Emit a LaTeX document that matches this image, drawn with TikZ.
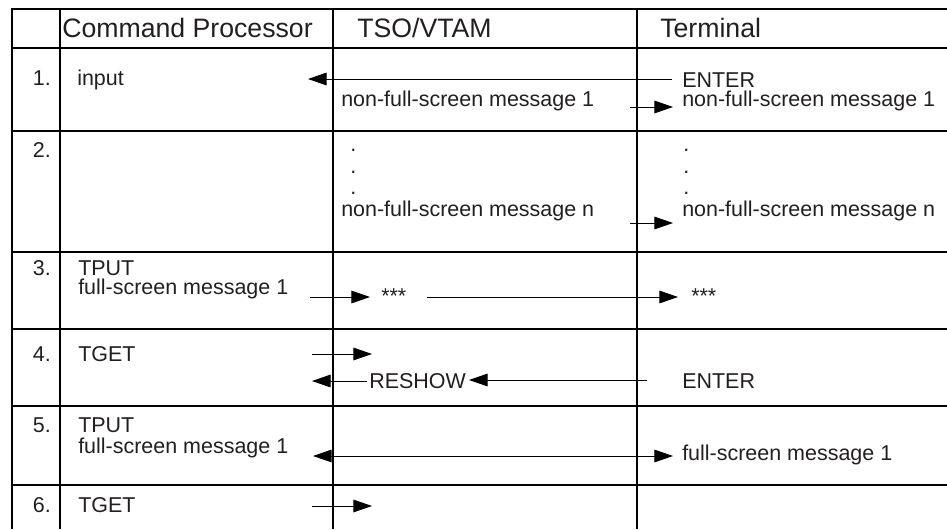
\documentclass[tikz,border=0pt]{standalone}
\usepackage{fontspec}
\setmainfont{Liberation Sans}
\usetikzlibrary{arrows.meta}
\definecolor{txt}{HTML}{231F20}
\begin{document}
\begin{tikzpicture}[x=0.75pt,y=-0.75pt,
  grid/.style={line width=0.85pt, black},
  hdr/.style={anchor=base west, inner sep=0pt, text=txt, font=\fontsize{20}{24}\selectfont},
  lbl/.style={anchor=base west, inner sep=0pt, text=txt, font=\fontsize{16.1}{19}\selectfont},
  num/.style={anchor=base east, inner sep=0pt, text=txt, font=\fontsize{16.1}{19}\selectfont},
  msg/.style={line width=0.75pt, black, -{Triangle[length=14pt,width=9.5pt]}},
  msgboth/.style={line width=0.75pt, black, {Triangle[length=14pt,width=9.5pt]}-{Triangle[length=14pt,width=9.5pt]}},
  ]
\useasboundingbox (0,0) rectangle (947,529);
% grid
\draw[grid] (947,9) -- (12,9) -- (12,529);
\draw[grid] (60,9) -- (60,529);
\draw[grid] (333,9) -- (333,529);
\draw[grid] (637,9) -- (637,529);
\foreach \yy in {48,131,252,329,406,485}
  \draw[grid] (12,\yy) -- (947,\yy);
% headers
\node[hdr] (hcp) at (62,37) {Command Processor};
\node[hdr] (hts) at (357,37) {TSO/VTAM};
\node[hdr] (hte) at (660,37) {Terminal};
% row 1
\node[num] (n1) at (51,85) {1.};
\node[lbl] (inp) at (77,85) {input};
\node[lbl] (ent1) at (682,87) {ENTER};
\node[lbl] (m1a) at (341,106) {non-full-screen message 1};
\node[lbl] (m1b) at (682,106) {non-full-screen message 1};
\coordinate (a1s) at (672,79);
\coordinate (a1e) at (308,79);
\draw[msg] (a1s) -- (a1e);
\coordinate (a2s) at (630,107);
\coordinate (a2e) at (673,107);
\draw[msg] (a2s) -- (a2e);
% row 2
\node[num] (n2) at (51,157) {2.};
\node[lbl] (d1a) at (350,151) {.};
\node[lbl] (d2a) at (350,173) {.};
\node[lbl] (d3a) at (350,194) {.};
\node[lbl] (d1b) at (683,151) {.};
\node[lbl] (d2b) at (683,173) {.};
\node[lbl] (d3b) at (683,194) {.};
\node[lbl] (mna) at (341,216) {non-full-screen message n};
\node[lbl] (mnb) at (682,216) {non-full-screen message n};
\coordinate (a3s) at (630,223);
\coordinate (a3e) at (673,223);
\draw[msg] (a3s) -- (a3e);
% row 3
\node[num] (n3) at (51,275) {3.};
\node[lbl] (tput1) at (78,275) {TPUT};
\node[lbl] (fs1) at (78,294) {full-screen message 1};
\node[lbl] (st1) at (381,303) {***};
\node[lbl] (st2) at (691,303) {***};
\coordinate (a4s) at (310,297);
\coordinate (a4e) at (370,297);
\draw[msg] (a4s) -- (a4e);
\coordinate (a5s) at (427,297);
\coordinate (a5e) at (678,297);
\draw[msg] (a5s) -- (a5e);
% row 4
\node[num] (n4) at (51,361) {4.};
\node[lbl] (tget1) at (78,361) {TGET};
\node[lbl] (resh) at (369,388) {RESHOW};
\node[lbl] (ent2) at (682,388) {ENTER};
\coordinate (a6s) at (312,354);
\coordinate (a6e) at (372,354);
\draw[msg] (a6s) -- (a6e);
\coordinate (a7s) at (367,381);
\coordinate (a7e) at (312,381);
\draw[msg] (a7s) -- (a7e);
\coordinate (a8s) at (647,380);
\coordinate (a8e) at (469,380);
\draw[msg] (a8s) -- (a8e);
% row 5
\node[num] (n5) at (51,432) {5.};
\node[lbl] (tput2) at (78,432) {TPUT};
\node[lbl] (fs2) at (78,453) {full-screen message 1};
\node[lbl] (fs3) at (682,460) {full-screen message 1};
\coordinate (a9s) at (313,456);
\coordinate (a9e) at (673,456);
\draw[msgboth] (a9s) -- (a9e);
% row 6
\node[num] (n6) at (51,512) {6.};
\node[lbl] (tget2) at (78,512) {TGET};
\coordinate (a10s) at (312,506);
\coordinate (a10e) at (372,506);
\draw[msg] (a10s) -- (a10e);
\end{tikzpicture}
\end{document}
